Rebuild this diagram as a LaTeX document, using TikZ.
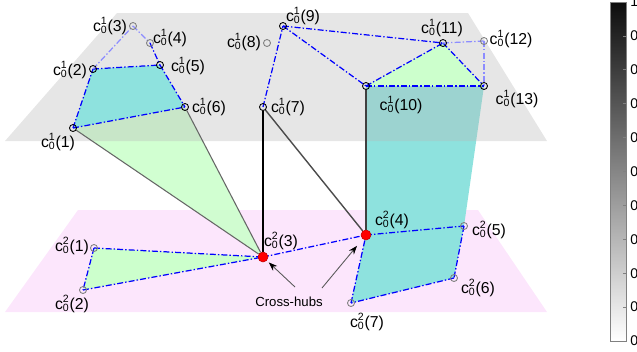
\documentclass[tikz,border=0pt]{standalone}
\usepackage{fontspec}
\setmainfont{Liberation Sans}
\usetikzlibrary{arrows.meta}
\pgfdeclarelayer{sheets}
\pgfdeclarelayer{upper}
\pgfdeclarelayer{links}
\pgfsetlayers{sheets,upper,links,main}
\newcommand{\cz}[2]{c\rlap{\textsuperscript{#1}}\textsubscript{0}(#2)}

\begin{document}
\begin{tikzpicture}[x=0.02cm,y=-0.02cm,font=\fontsize{9}{10}\selectfont,
  pt/.style={circle,draw=black,line width=0.5pt,minimum size=0.14cm,inner sep=0pt},
  ptgray/.style={pt,draw=black!50},
  hub/.style={circle,fill=red,draw=red!75!black,line width=0.3pt,minimum size=0.2cm,inner sep=0pt},
  lab/.style={inner sep=0pt},
  link/.style={draw=blue,line width=0.7pt,dash pattern=on 3.4pt off 1.2pt on 0.8pt off 1.2pt},
  weak/.style={link,draw=blue!45},
  riser/.style={draw=black!60,line width=0.6pt},
  hubarrow/.style={draw=black!65,line width=0.5pt,-{Stealth[length=5pt,width=3.6pt,color=black]}}]
  \definecolor{sheettop}{HTML}{B8B8B8}
  \definecolor{sheetlow}{HTML}{FCE6FC}
  \definecolor{facecyan}{HTML}{8EE2DE}
  \definecolor{facegreen}{HTML}{CCFFCC}
  \useasboundingbox (0,0) rectangle (637,352);

  % upper sheet
  \node[pt] (t1) at (73,128) {};
  \node[pt] (t2) at (93,69) {};
  \node[ptgray] (t3) at (133,26) {};
  \node[ptgray] (t4) at (150,43) {};
  \node[pt] (t5) at (160,65) {};
  \node[pt] (t6) at (185,107) {};
  \node[pt] (t7) at (263,107) {};
  \node[ptgray] (t8) at (267,43) {};
  \node[pt] (t9) at (283,26) {};
  \node[pt] (t10) at (366,86) {};
  \node[pt] (t11) at (443,43) {};
  \node[ptgray] (t12) at (484,41) {};
  \node[pt] (t13) at (484,86) {};
  % lower sheet
  \node[ptgray] (b1) at (94,248) {};
  \node[ptgray] (b2) at (83,290) {};
  \node[hub] (b3) at (263,257) {};
  \node[hub] (b4) at (366,235) {};
  \node[ptgray] (b5) at (464,226) {};
  \node[ptgray] (b6) at (454,278) {};
  \node[ptgray] (b7) at (351,303) {};

  \foreach \p/\s/\n/\dx/\dy in {t1/1/1/-15/14, t2/1/2/-23/1, t3/1/3/-23/0,
      t4/1/4/20/-5, t5/1/5/28/1, t6/1/6/24/0, t7/1/7/25/0, t8/1/8/-23/-1,
      t9/1/9/20/-10, t10/1/10/35/19, t11/1/11/-1/-15, t12/1/12/27/-2,
      t13/1/13/33/13, b1/2/1/-22/-2, b2/2/2/-11/14, b3/2/3/18/-16,
      b4/2/4/26/-15, b5/2/5/25/4, b6/2/6/24/10, b7/2/7/16/19}
    \node[lab] (l\p) at ([shift={(\dx,\dy)}]\p) {\cz{\s}{\n}};

  \begin{pgfonlayer}{sheets}
    \fill[sheetlow] (78,210) -- (478,210) -- (547,312) -- (5,312) -- cycle;
    \fill[facegreen] (b1.center) -- (b2.center) -- (b3.center) -- cycle;
    \fill[facegreen,opacity=0.9] (t1.center) -- (t6.center) -- (b3.center) -- cycle;
    \fill[facecyan] (t10.center) -- (t13.center) -- (b5.center) -- (b6.center)
      -- (b7.center) -- (b4.center) -- cycle;
  \end{pgfonlayer}
  \begin{pgfonlayer}{upper}
    \fill[sheettop,opacity=0.35] (117,13) -- (468,13) -- (547,141) -- (5,141) -- cycle;
    \fill[facecyan] (t1.center) -- (t2.center) -- (t5.center) -- (t6.center) -- cycle;
    \fill[facegreen] (t10.center) -- (t11.center) -- (t13.center) -- cycle;
  \end{pgfonlayer}

  \begin{pgfonlayer}{links}
    \foreach \a/\b in {t1/t2, t2/t5, t4/t5, t5/t6, t1/t6, t7/t9, t9/t10, t9/t11,
        t10/t11, t11/t13, t10/t13, b1/b2, b1/b3, b2/b3, b3/b4, b4/b5, b5/b6,
        b6/b7, b7/b4}
      \draw[link] (\a.center) -- (\b.center);
    \foreach \a/\b in {t2/t3, t3/t4, t11/t12, t12/t13}
      \draw[weak] (\a.center) -- (\b.center);
    \draw[riser] (t1) -- (b3);
    \draw[riser] (t6) -- (b3);
    \draw[riser,draw=black!70,line width=0.8pt] (t7) -- (b4);
    \draw[riser,draw=black!75,line width=1pt] (t10) -- (b4);
    \draw[black,line width=1.2pt] (t7) -- (b3);
  \end{pgfonlayer}

  \node[lab,font=\fontsize{7.5}{9}\selectfont] (hubs) at (289,302) {Cross-hubs};
  \draw[hubarrow,shorten >=1.5pt] ([shift={(6,-15)}]hubs.center) -- (b3);
  \draw[hubarrow,shorten >=5pt] ([shift={(33,-14)}]hubs.center) -- (b4);

  % colour bar
  \shade[top color=black!95,bottom color=white] (610,2) rectangle (626,341);
  \draw[black!50,line width=0.4pt] (610,2) rectangle (626,341);
  \foreach \k/\v in {0/0,1/0.1,2/0.2,3/0.3,4/0.4,5/0.5,6/0.6,7/0.7,8/0.8,9/0.9,10/1}{
    \draw[black!50,line width=0.4pt] (626,{341-\k*33.9}) -- (623,{341-\k*33.9});
    \node[lab,anchor=west,font=\fontsize{8}{9}\selectfont] (cb\k) at (630,{341-\k*33.9}) {\v};
  }
\end{tikzpicture}
\end{document}
